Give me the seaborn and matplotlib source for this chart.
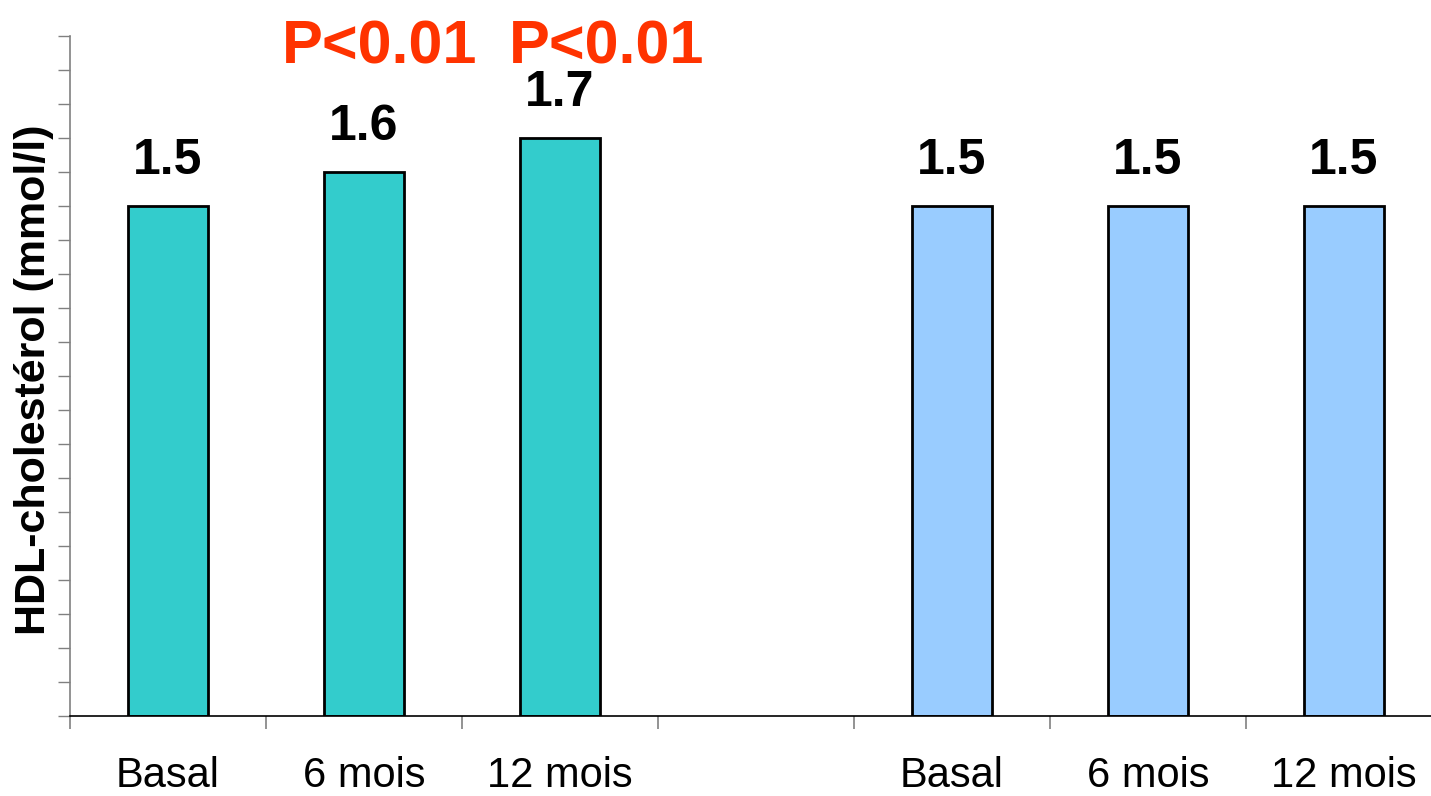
import matplotlib
matplotlib.use("Agg")
import matplotlib.pyplot as plt
import seaborn as sns
import pandas as pd
import numpy as np

# Data
groups = ["G1", "G1", "G1", "G2", "G2", "G2"]
slots = [0, 1, 2, 4, 5, 6]
values = [1.5, 1.6, 1.7, 1.5, 1.5, 1.5]
value_labels = ["1.5", "1.6", "1.7", "1.5", "1.5", "1.5"]
tick_labels = ["Basal", "6 mois", "12 mois", "Basal", "6 mois", "12 mois"]
p_labels = ["P<0.01", "P<0.01"]
p_x = [1.08, 2.24]
p_y = 1.92
colors = {"G1": "#33CCCC", "G2": "#99CCFF"}

df = pd.DataFrame({"slot": slots, "value": values, "group": groups})

sns.set_theme(style="white")
plt.rcParams["font.family"] = ["Liberation Sans", "DejaVu Sans"]

fig = plt.figure(figsize=(14.31, 7.96), dpi=100)
ax = fig.add_axes([70 / 1431, 80 / 796, 1372 / 1431, 680 / 796])

sns.barplot(data=df, x="slot", y="value", hue="group", native_scale=True,
            width=0.41, palette=colors, saturation=1, edgecolor="black",
            linewidth=2, dodge=False, legend=False, ax=ax)

ax.set_xlim(-0.5, 6.5)
ax.set_ylim(0, 2.0)

# y ticks
ax.set_yticks(np.arange(0, 2.01, 0.1))
ax.set_yticklabels([])
ax.tick_params(axis="y", direction="out", length=9, width=1, color="#808080", left=True)

# x ticks: labels at centers, marks at boundaries
ax.set_xticks(slots)
ax.set_xticklabels(tick_labels, fontsize=30, color="black")
ax.set_xticks(np.arange(-0.5, 6.0, 1.0), minor=True)
ax.tick_params(axis="x", which="major", length=0, pad=29)
ax.tick_params(axis="x", which="minor", direction="out", length=9, width=1.2,
               color="#808080", bottom=True)

for s in ["top", "right"]:
    ax.spines[s].set_visible(False)
ax.spines["left"].set_color("#808080")
ax.spines["left"].set_linewidth(1.2)
ax.spines["bottom"].set_color("black")
ax.spines["bottom"].set_linewidth(1.2)

ax.set_xlabel("")
ax.set_ylabel("HDL-cholestérol (mmol/l)", fontsize=31, fontweight="bold",
              color="black")
ax.yaxis.set_label_coords(-16 / 1372, 0.494)

for x, v, lab in zip(slots, values, value_labels):
    ax.text(x, v + 0.094, lab, ha="center", va="baseline", fontsize=36,
            fontweight="bold", color="black")

for x, lab in zip(p_x, p_labels):
    ax.text(x, p_y, lab, ha="center", va="baseline", fontsize=44,
            fontweight="bold", color="#FF3300")

fig.savefig("out.png", dpi=100)
